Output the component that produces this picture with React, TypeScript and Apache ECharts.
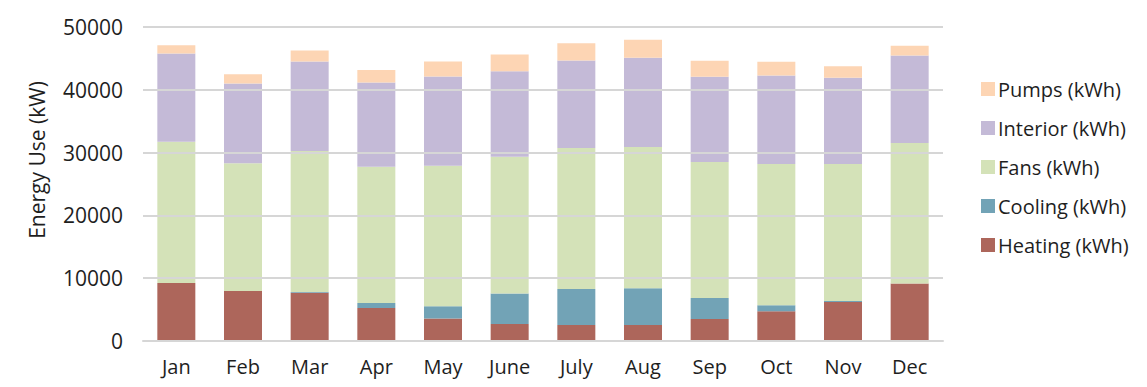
import React, { useEffect, useRef } from "react";
import * as echarts from "echarts";

const months = ["Jan", "Feb", "Mar", "Apr", "May", "June", "July", "Aug", "Sep", "Oct", "Nov", "Dec"];
const heating = [9250, 7970, 7700, 5260, 3570, 2710, 2550, 2550, 3510, 4740, 6220, 9150];
const cooling = [0, 0, 100, 800, 1960, 4850, 5740, 5850, 3350, 950, 160, 0];
const fans = [22490, 20320, 22450, 21690, 22380, 21790, 22440, 22490, 21640, 22490, 21800, 22380];
const interior = [14030, 12700, 14250, 13400, 14200, 13620, 13930, 14200, 13560, 14090, 13720, 13920];
const pumps = [1340, 1500, 1750, 2020, 2390, 2640, 2770, 2870, 2550, 2180, 1860, 1550];
const legendOrder = ["Pumps (kWh)", "Interior (kWh)", "Fans (kWh)", "Cooling (kWh)", "Heating (kWh)"];
const yTitle = "Energy Use (kW)";

const FONT = "'Open Sans', Lato, sans-serif";

export default function App() {
  const ref = useRef<HTMLDivElement>(null);
  useEffect(() => {
    if (!ref.current) return;
    const chart = echarts.init(ref.current, undefined, { renderer: "svg" });
    const mk = (name: string, data: number[], color: string) => ({
      name,
      type: "bar",
      stack: "total",
      data,
      barWidth: "57%",
      itemStyle: { color },
    });
    chart.setOption({
      animation: false,
      textStyle: { fontFamily: FONT },
      grid: { left: 143, right: 204, top: 27, bottom: 46 },
      legend: {
        orient: "vertical",
        left: 976,
        top: 74,
        itemWidth: 14,
        itemHeight: 14,
        itemGap: 19,
        icon: "rect",
        data: legendOrder,
        textStyle: { fontSize: 20, color: "#1e1e1e", fontFamily: FONT, padding: [0, 0, 0, -2] },
      },
      graphic: [
        {
          type: "text",
          x: 37,
          y: 160,
          rotation: Math.PI / 2,
          style: {
            text: yTitle,
            fontSize: 21,
            fontFamily: FONT,
            fill: "#1e1e1e",
            align: "center",
            verticalAlign: "middle",
          },
        },
      ],
      xAxis: {
        type: "category",
        data: months,
        axisLine: { lineStyle: { color: "#d6d6d6", width: 2 } },
        axisTick: { show: false },
        axisLabel: { fontSize: 20, color: "#1e1e1e", margin: 15, fontFamily: FONT },
        z: 5,
      },
      yAxis: {
        type: "value",
        min: 0,
        max: 50000,
        interval: 10000,
        axisLine: { show: false },
        axisTick: { show: false },
        axisLabel: { fontSize: 21, color: "#1e1e1e", margin: 20, fontFamily: FONT, formatter: (v: number) => String(v) },
        splitLine: { lineStyle: { color: "#d6d6d6", width: 2 } },
        z: 5,
      },
      series: [
        mk("Heating (kWh)", heating, "#AD665B"),
        mk("Cooling (kWh)", cooling, "#72A3B6"),
        mk("Fans (kWh)", fans, "#D4E2B8"),
        mk("Interior (kWh)", interior, "#C4BAD7"),
        mk("Pumps (kWh)", pumps, "#FDD5B4"),
      ],
    });
    return () => chart.dispose();
  }, []);
  return <div ref={ref} style={{ width: 1147, height: 387, margin: -8 }} />;
}
